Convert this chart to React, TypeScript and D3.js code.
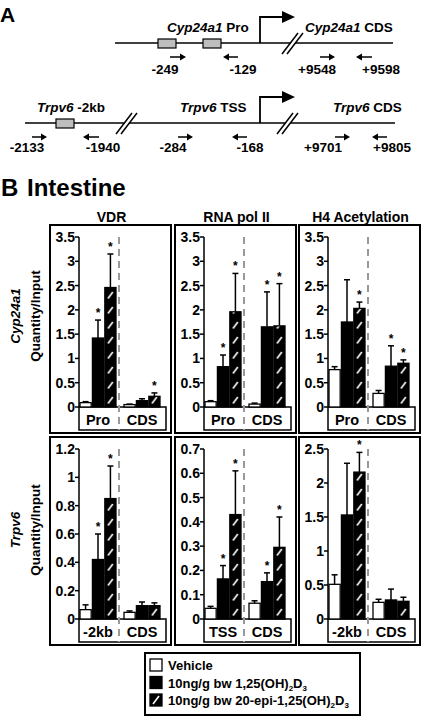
import React from "react";
import * as d3 from "d3";

// ---------- data ----------
const seriesNames = ["Vehicle", "10ng/g bw 1,25(OH)2D3", "10ng/g bw 20-epi-1,25(OH)2D3"];
const factorNames = ["VDR", "RNA pol II", "H4 Acetylation"];
const geneNames = ["Cyp24a1", "Trpv6"];

const cypRegions = [["Pro", "CDS"], ["Pro", "CDS"], ["Pro", "CDS"]];
const trpvRegions = [["-2kb", "CDS"], ["TSS", "CDS"], ["-2kb", "CDS"]];

// means [region][series]
const cypVdrMean = [[0.09, 1.42, 2.46], [0.05, 0.13, 0.22]];
const cypVdrErr = [[0.02, 0.37, 0.69], [0.01, 0.04, 0.07]];
const cypVdrSig = [[0, 1, 1], [0, 0, 1]];

const cypPolMean = [[0.11, 0.83, 1.96], [0.06, 1.65, 1.67]];
const cypPolErr = [[0.02, 0.24, 0.79], [0.02, 0.72, 0.87]];
const cypPolSig = [[0, 1, 1], [0, 1, 1]];

const cypH4Mean = [[0.77, 1.75, 2.03], [0.28, 0.84, 0.9]];
const cypH4Err = [[0.06, 0.87, 0.13], [0.06, 0.42, 0.07]];
const cypH4Sig = [[0, 0, 1], [0, 1, 1]];

const trpVdrMean = [[0.066, 0.42, 0.85], [0.047, 0.094, 0.094]];
const trpVdrErr = [[0.034, 0.18, 0.23], [0.01, 0.026, 0.02]];
const trpVdrSig = [[0, 1, 1], [0, 0, 0]];

const trpPolMean = [[0.044, 0.165, 0.43], [0.065, 0.154, 0.295]];
const trpPolErr = [[0.008, 0.055, 0.18], [0.01, 0.036, 0.125]];
const trpPolSig = [[0, 1, 1], [0, 1, 1]];

const trpH4Mean = [[0.51, 1.53, 2.16], [0.245, 0.28, 0.26]];
const trpH4Err = [[0.14, 0.76, 0.29], [0.045, 0.16, 0.06]];
const trpH4Sig = [[0, 0, 1], [0, 0, 0]];

const cypTicks = [0, 0.5, 1, 1.5, 2, 2.5, 3, 3.5];
const trpVdrTicks = [0, 0.2, 0.4, 0.6, 0.8, 1, 1.2];
const trpPolTicks = [0, 0.1, 0.2, 0.3, 0.4, 0.5, 0.6, 0.7];
const trpH4Ticks = [0, 0.5, 1, 1.5, 2, 2.5];

const cypPrimerLabels = ["-249", "-129", "+9548", "+9598"];
const trpPrimerLabels = ["-2133", "-1940", "-284", "-168", "+9701", "+9805"];

// ---------- layout ----------
const FONT = "'Liberation Sans', Arial, Helvetica, sans-serif";
const boxXs = [50, 175, 299];
const BOX_W = 121;
const rowTops = [225, 437];
const BOX_H = 208;

type PanelProps = {
  id: string;
  bx: number;
  top: number;
  regions: string[];
  mean: number[][];
  err: number[][];
  sig: number[][];
  ticks: number[];
};

function Panel({ id, bx, top, regions, mean, err, sig, ticks }: PanelProps) {
  const axisX = bx + 29;
  const innerRight = bx + 116;
  const axisTop = top + 12;
  const zero = top + 182;
  const catBottom = top + BOX_H - 3;
  const y = d3.scaleLinear().domain([0, ticks[ticks.length - 1]]).range([zero, axisTop]);
  const gx = d3.scaleBand<string>().domain(regions).range([axisX + 1, axisX + 81]).paddingInner(8 / 44);
  const sx = d3.scaleBand<number>().domain([0, 1, 2]).range([0, gx.bandwidth()]).paddingInner(0.1);
  const divX = axisX + 40;
  const bw = sx.bandwidth();
  return (
    <g>
      <rect x={bx} y={top} width={BOX_W} height={BOX_H} fill="none" stroke="#000" strokeWidth={2} />
      {/* category box */}
      <path
        d={`M${axisX},${axisTop} V${catBottom} H${innerRight} V${zero} H${axisX}`}
        fill="none"
        stroke="#000"
        strokeWidth={1.5}
      />
      <line x1={divX} x2={divX} y1={axisTop} y2={catBottom} stroke="#999" strokeWidth={2} strokeDasharray="7,5" />
      {ticks.map((t) => (
        <g key={t}>
          <line x1={axisX - 4} x2={axisX} y1={y(t)} y2={y(t)} stroke="#000" strokeWidth={1.5} />
          <text x={axisX - 4} y={y(t) + 5} textAnchor="end" fontSize={14} fontWeight="bold" fontFamily={FONT}>
            {String(t)}
          </text>
        </g>
      ))}
      {regions.map((r, gi) => (
        <g key={r + gi}>
          {mean[gi].map((m, si) => {
            const x0 = (gx(r) as number) + (sx(si) as number);
            const cx = x0 + bw / 2;
            const yt = y(m);
            const ye = y(m + err[gi][si]);
            const pid = `${id}-h-${gi}-${si}`;
            return (
              <g key={si}>
                {si === 2 && (
                  <defs>
                    <pattern id={pid} patternUnits="userSpaceOnUse" x={x0} y={zero} width={bw} height={15}>
                      <rect width={bw} height={15} fill="#000" />
                      <line x1={bw * 0.28} y1={11.5} x2={bw * 0.72} y2={5} stroke="#fff" strokeWidth={1.6} />
                    </pattern>
                  </defs>
                )}
                <line x1={cx} x2={cx} y1={yt} y2={ye} stroke="#000" strokeWidth={1.5} />
                <line x1={cx - 3} x2={cx + 3} y1={ye} y2={ye} stroke="#000" strokeWidth={1.5} />
                <rect
                  x={x0}
                  y={yt}
                  width={bw}
                  height={zero - yt}
                  fill={si === 0 ? "#fff" : si === 1 ? "#000" : `url(#${pid})`}
                  stroke="#000"
                  strokeWidth={1.3}
                />
                {sig[gi][si] === 1 && (
                  <text x={cx} y={ye - 3} textAnchor="middle" fontSize={12} fontWeight="bold" fontFamily={FONT}>
                    *
                  </text>
                )}
              </g>
            );
          })}
          <text
            x={(gx(r) as number) + gx.bandwidth() / 2}
            y={zero + 18}
            textAnchor="middle"
            fontSize={14.5}
            fontWeight="bold"
            fontFamily={FONT}
          >
            {r}
          </text>
        </g>
      ))}
    </g>
  );
}

function RightArrow({ x1, x2, yy }: { x1: number; x2: number; yy: number }) {
  return (
    <g>
      <line x1={x1} x2={x2 - 4} y1={yy} y2={yy} stroke="#000" strokeWidth={1.5} />
      <path d={`M${x2},${yy} L${x2 - 6},${yy - 3.5} L${x2 - 6},${yy + 3.5} Z`} fill="#000" />
    </g>
  );
}
function LeftArrow({ x1, x2, yy }: { x1: number; x2: number; yy: number }) {
  return (
    <g>
      <line x1={x1 + 4} x2={x2} y1={yy} y2={yy} stroke="#000" strokeWidth={1.5} />
      <path d={`M${x1},${yy} L${x1 + 6},${yy - 3.5} L${x1 + 6},${yy + 3.5} Z`} fill="#000" />
    </g>
  );
}
function Break({ x, yy }: { x: number; yy: number }) {
  return (
    <g>
      <path d={`M${x - 9},${yy + 11} L${x + 7},${yy - 10} L${x + 12},${yy - 10} L${x - 4},${yy + 11} Z`} fill="#fff" />
      <line x1={x - 9} y1={yy + 11} x2={x + 7} y2={yy - 10} stroke="#000" strokeWidth={1.5} />
      <line x1={x - 4} y1={yy + 11} x2={x + 12} y2={yy - 10} stroke="#000" strokeWidth={1.5} />
    </g>
  );
}
function TSS({ x, yLine, yArrow }: { x: number; yLine: number; yArrow: number }) {
  return (
    <g>
      <path d={`M${x},${yLine} V${yArrow} H${x + 24}`} fill="none" stroke="#000" strokeWidth={1.8} />
      <path d={`M${x + 35},${yArrow} L${x + 22},${yArrow - 6} L${x + 22},${yArrow + 6} Z`} fill="#000" />
    </g>
  );
}

const cypPrimerX = [
  { a: 170, b: 186, dir: 1, tx: 165 },
  { a: 223, b: 238, dir: -1, tx: 243 },
  { a: 320, b: 335, dir: 1, tx: 317 },
  { a: 356, b: 372, dir: -1, tx: 381 },
];
const trpPrimerX = [
  { a: 32, b: 47, dir: 1, tx: 27 },
  { a: 83, b: 99, dir: -1, tx: 103 },
  { a: 178, b: 193, dir: 1, tx: 173 },
  { a: 232, b: 247, dir: -1, tx: 250 },
  { a: 335, b: 350, dir: 1, tx: 323 },
  { a: 372, b: 387, dir: -1, tx: 392 },
];

export default function App() {
  const cypY = 43;
  const trpY = 123;
  const panels = [
    [
      { mean: cypVdrMean, err: cypVdrErr, sig: cypVdrSig, ticks: cypTicks },
      { mean: cypPolMean, err: cypPolErr, sig: cypPolSig, ticks: cypTicks },
      { mean: cypH4Mean, err: cypH4Err, sig: cypH4Sig, ticks: cypTicks },
    ],
    [
      { mean: trpVdrMean, err: trpVdrErr, sig: trpVdrSig, ticks: trpVdrTicks },
      { mean: trpPolMean, err: trpPolErr, sig: trpPolSig, ticks: trpPolTicks },
      { mean: trpH4Mean, err: trpH4Err, sig: trpH4Sig, ticks: trpH4Ticks },
    ],
  ];
  const regionsByRow = [cypRegions, trpvRegions];
  const labelCenters = [316, 530];

  return (
    <svg
      width={422}
      height={717}
      viewBox="0 0 422 717"
      style={{ position: "absolute", left: 0, top: 0, background: "#fff" }}
      fontFamily={FONT}
    >
      <rect width={422} height={717} fill="#fff" />
      {/* ---- Panel A ---- */}
      <text x={0} y={22} fontSize={21} fontWeight="bold">A</text>

      {/* Cyp24a1 */}
      <line x1={115} x2={393} y1={cypY} y2={cypY} stroke="#000" strokeWidth={1.5} />
      <rect x={158} y={cypY - 4} width={18} height={9} fill="#bdbdbd" stroke="#000" strokeWidth={1.2} />
      <rect x={203} y={cypY - 4} width={18} height={9} fill="#bdbdbd" stroke="#000" strokeWidth={1.2} />
      <TSS x={260} yLine={cypY} yArrow={17} />
      <Break x={291} yy={cypY} />
      <text x={167} y={32} fontSize={13.5} fontWeight="bold">
        <tspan fontStyle="italic">{geneNames[0]}</tspan> Pro
      </text>
      <text x={305} y={32} fontSize={13.5} fontWeight="bold">
        <tspan fontStyle="italic">{geneNames[0]}</tspan> CDS
      </text>
      {cypPrimerX.map((p, i) => (
        <g key={i}>
          {p.dir > 0 ? <RightArrow x1={p.a} x2={p.b} yy={57} /> : <LeftArrow x1={p.a} x2={p.b} yy={57} />}
          <text x={p.tx} y={74} textAnchor="middle" fontSize={13.5} fontWeight="bold">{cypPrimerLabels[i]}</text>
        </g>
      ))}

      {/* Trpv6 */}
      <line x1={25} x2={395} y1={trpY} y2={trpY} stroke="#000" strokeWidth={1.5} />
      <rect x={56} y={trpY - 4} width={18} height={9} fill="#bdbdbd" stroke="#000" strokeWidth={1.2} />
      <Break x={125} yy={trpY} />
      <TSS x={260} yLine={trpY} yArrow={97} />
      <Break x={286} yy={trpY} />
      <text x={37} y={112} fontSize={13.5} fontWeight="bold">
        <tspan fontStyle="italic">{geneNames[1]}</tspan> -2kb
      </text>
      <text x={180} y={112} fontSize={13.5} fontWeight="bold">
        <tspan fontStyle="italic">{geneNames[1]}</tspan> TSS
      </text>
      <text x={333} y={112} fontSize={13.5} fontWeight="bold">
        <tspan fontStyle="italic">{geneNames[1]}</tspan> CDS
      </text>
      {trpPrimerX.map((p, i) => (
        <g key={i}>
          {p.dir > 0 ? <RightArrow x1={p.a} x2={p.b} yy={137} /> : <LeftArrow x1={p.a} x2={p.b} yy={137} />}
          <text x={p.tx} y={152} textAnchor="middle" fontSize={13.5} fontWeight="bold">{trpPrimerLabels[i]}</text>
        </g>
      ))}

      {/* ---- Panel B ---- */}
      <text x={1} y={196} fontSize={24} fontWeight="bold">B</text>
      <text x={27} y={196} fontSize={24} fontWeight="bold">Intestine</text>

      {factorNames.map((f, i) => (
        <text key={f} x={boxXs[i] + BOX_W / 2 + 1} y={222} textAnchor="middle" fontSize={14} fontWeight="bold">
          {f}
        </text>
      ))}

      {panels.map((row, ri) => (
        <g key={ri}>
          {row.map((p, ci) => (
            <Panel
              key={ci}
              id={`p${ri}${ci}`}
              bx={boxXs[ci]}
              top={rowTops[ri]}
              regions={regionsByRow[ri][ci]}
              mean={p.mean}
              err={p.err}
              sig={p.sig}
              ticks={p.ticks}
            />
          ))}
          <text
            transform={`translate(20,${labelCenters[ri]}) rotate(-90)`}
            textAnchor="middle"
            fontSize={13.5}
            fontWeight="bold"
            fontStyle="italic"
          >
            {geneNames[ri]}
          </text>
          <text
            transform={`translate(40,${labelCenters[ri]}) rotate(-90)`}
            textAnchor="middle"
            fontSize={13.5}
            fontWeight="bold"
          >
            Quantity/Input
          </text>
        </g>
      ))}

      {/* ---- Legend ---- */}
      <defs>
        <pattern id="legHatch" patternUnits="userSpaceOnUse" x={150} y={694} width={12} height={12}>
          <rect width={12} height={12} fill="#000" />
          <line x1={3} y1={10} x2={9} y2={2} stroke="#fff" strokeWidth={1.6} />
        </pattern>
      </defs>
      <rect x={145} y={653} width={215} height={62} fill="#fff" stroke="#000" strokeWidth={2} />
      {seriesNames.map((s, i) => {
        const yy = 665 + i * 17.5;
        const fill = i === 0 ? "#fff" : i === 1 ? "#000" : "url(#legHatch)";
        return (
          <g key={s}>
            <rect x={150} y={yy - 6} width={12} height={12} fill={fill} stroke="#000" strokeWidth={1.3} />
            {i === 0 ? (
              <text x={168} y={yy + 5} fontSize={13} fontWeight="bold">{s}</text>
            ) : (
              <text x={168} y={yy + 5} fontSize={13} fontWeight="bold">
                {i === 1 ? "10ng/g bw 1,25(OH)" : "10ng/g bw 20-epi-1,25(OH)"}
                <tspan fontSize={8} dy={3}>2</tspan>
                <tspan dy={-3}>D</tspan>
                <tspan fontSize={8} dy={3}>3</tspan>
              </text>
            )}
          </g>
        );
      })}
    </svg>
  );
}
